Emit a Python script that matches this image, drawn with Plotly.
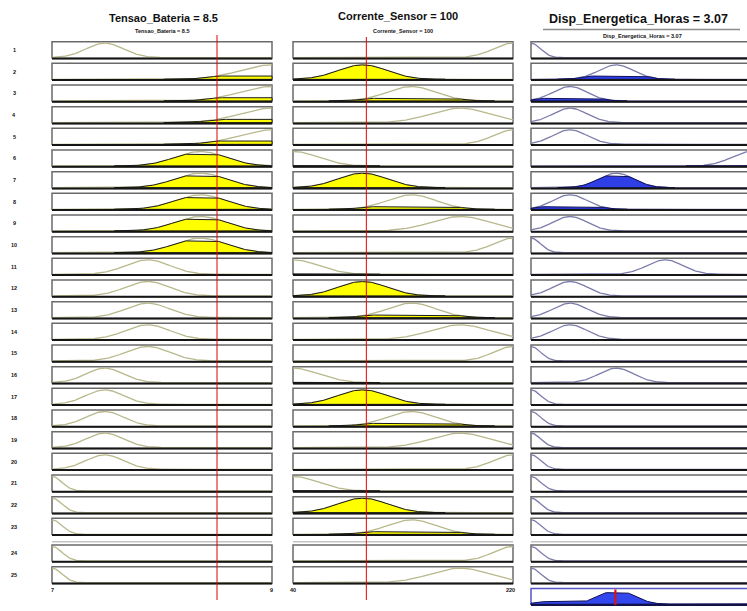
import numpy as np
import plotly.graph_objects as go

# ---------------- data ----------------
tensao_range = [7, 9]
corrente_range = [40, 220]
saida_range = [0, 8]

tensao_input = 8.5
corrente_input = 100
saida_output = 3.07

# membership function parameters (gaussian: center, sigma)
tensao_mf_centers = [7.0, 7.48, 7.87, 8.35, 9.0]
tensao_mf_sigmas = [0.09, 0.17, 0.20, 0.23, 0.29]
corrente_mf_centers = [40, 97, 137, 177, 220]
corrente_mf_sigmas = [21, 20, 20, 24, 16]
saida_mf_centers = [0.0, 1.42, 3.1, 4.87, 8.0]
saida_mf_sigmas = [0.35, 0.62, 0.63, 0.65, 0.7]

# rules (index of membership function per rule)
rule_tensao = [1, 4, 4, 4, 4, 3, 3, 3, 3, 3, 2, 2, 2, 2, 2, 1, 1, 1, 1, 1, 0, 0, 0, 0, 0]
rule_corrente = [4, 1, 2, 3, 4, 0, 1, 2, 3, 4, 0, 1, 2, 3, 4, 0, 1, 2, 3, 4, 0, 1, 2, 4, 3]
rule_saida = [0, 2, 1, 1, 1, 4, 2, 1, 1, 0, 3, 1, 1, 1, 0, 2, 0, 0, 0, 0, 0, 0, 0, 0, 0]

titles = ["Tensao_Bateria = 8.5", "Corrente_Sensor = 100", "Disp_Energetica_Horas = 3.07"]

# ---------------- layout helpers ----------------
W, H = 747, 611
col_px = [(52, 272), (293, 513), (531, 751)]
ranges = [tensao_range, corrente_range, saida_range]
PH = 16.7
n_rules = len(rule_tensao)


def row_top(i):
    return 41.7 + i * 21.667 + (5.0 if i >= 23 else 0.0)


AGG_TOP, AGG_BOT = 588.5, 605.0


def gauss(x, c, s):
    return np.exp(-((x - c) ** 2) / (2.0 * s ** 2))


def vy(v, bot, h=PH):
    return bot - (v + 0.05) / 1.15 * h


fig = go.Figure()

axis_names = ["x", "x2", "x3"]
layout_axes = {}
for k in range(3):
    p0, p1 = col_px[k]
    lo, hi = ranges[k]
    sc = (p1 - p0) / (hi - lo)
    d0 = p0 - 5
    d1 = min(p1 + 5, W)
    r0 = lo - (p0 - d0) / sc
    r1 = hi + (d1 - p1) / sc
    key = "xaxis" if k == 0 else "xaxis%d" % (k + 1)
    layout_axes[key] = dict(domain=[d0 / W, d1 / W], range=[r0, r1], visible=False,
                            anchor="y", fixedrange=True)

mf_params = [
    (tensao_mf_centers, tensao_mf_sigmas, rule_tensao),
    (corrente_mf_centers, corrente_mf_sigmas, rule_corrente),
    (saida_mf_centers, saida_mf_sigmas, rule_saida),
]
inputs = [tensao_input, corrente_input]

curve_col = ["#b8b88c", "#b8b88c", "#7c7cac"]
fill_col = ["#ffff00", "#ffff00", "#2f3fe6"]
edge_col = ["#1a1a1a", "#1a1a1a", "#10105a"]

# firing strengths
mu_t = [gauss(tensao_input, tensao_mf_centers[j], tensao_mf_sigmas[j]) for j in rule_tensao]
mu_c = [gauss(corrente_input, corrente_mf_centers[j], corrente_mf_sigmas[j]) for j in rule_corrente]
firing = [min(a, b) for a, b in zip(mu_t, mu_c)]

# panel boxes
for k in range(3):
    lo, hi = ranges[k]
    bx, by = [], []
    for i in range(n_rules):
        t = row_top(i)
        b = t + PH
        bx += [lo, lo, hi, hi, lo, None]
        by += [b, t, t, b, b, None]
    fig.add_trace(go.Scatter(x=bx, y=by, xaxis=axis_names[k], yaxis="y", mode="lines",
                             line=dict(color="#6a6a6a", width=1.5), hoverinfo="skip"))
    # separator between rules 23 and 24
    fig.add_trace(go.Scatter(x=[lo, hi], y=[541.7, 541.7], xaxis=axis_names[k], yaxis="y",
                             mode="lines", line=dict(color="#c4c4c4", width=1.5), hoverinfo="skip"))

# curves and fills
for k in range(3):
    lo, hi = ranges[k]
    centers, sigmas, rule_idx = mf_params[k]
    xs = np.linspace(lo, hi, 241)
    cx, cy = [], []
    for i in range(n_rules):
        b = row_top(i) + PH
        mf = gauss(xs, centers[rule_idx[i]], sigmas[rule_idx[i]])
        cx += list(xs) + [None]
        cy += list(vy(mf, b)) + [None]
    fig.add_trace(go.Scatter(x=cx, y=cy, xaxis=axis_names[k], yaxis="y", mode="lines",
                             line=dict(color=curve_col[k], width=1.3), hoverinfo="skip"))
    for i in range(n_rules):
        b = row_top(i) + PH
        mf = gauss(xs, centers[rule_idx[i]], sigmas[rule_idx[i]])
        if k < 2:
            level = gauss(inputs[k], centers[rule_idx[i]], sigmas[rule_idx[i]])
        else:
            level = firing[i]
        clip = np.minimum(mf, level)
        if clip.max() < 0.01:
            continue
        m = clip > 0.003
        px = xs[m]
        py = vy(clip[m], b)
        polx = list(px) + [px[-1], px[0], px[0]]
        poly = list(py) + [vy(0, b), vy(0, b), py[0]]
        fig.add_trace(go.Scatter(x=polx, y=poly, xaxis=axis_names[k], yaxis="y", mode="lines",
                                 fill="toself", fillcolor=fill_col[k],
                                 line=dict(color=edge_col[k], width=1), hoverinfo="skip"))
    # bottom edges
    bbx, bby = [], []
    for i in range(n_rules):
        b = row_top(i) + PH
        bbx += [lo, hi, None]
        bby += [b, b, None]
    fig.add_trace(go.Scatter(x=bbx, y=bby, xaxis=axis_names[k], yaxis="y", mode="lines",
                             line=dict(color="#151515", width=2), hoverinfo="skip"))

# aggregated output
lo, hi = saida_range
xs = np.linspace(lo, hi, 321)
agg = np.zeros_like(xs)
for i in range(n_rules):
    mf = gauss(xs, saida_mf_centers[rule_saida[i]], saida_mf_sigmas[rule_saida[i]])
    agg = np.maximum(agg, np.minimum(mf, firing[i]))
hA = AGG_BOT - AGG_TOP
fig.add_trace(go.Scatter(x=[lo, lo, hi, hi, lo], y=[AGG_BOT, AGG_TOP, AGG_TOP, AGG_BOT, AGG_BOT],
                         xaxis="x3", yaxis="y", mode="lines",
                         line=dict(color="#5656cc", width=1.5), hoverinfo="skip"))
ax = list(xs) + [hi, lo, lo]
ay = list(vy(agg, AGG_BOT, hA)) + [vy(0, AGG_BOT, hA), vy(0, AGG_BOT, hA), vy(agg[0], AGG_BOT, hA)]
fig.add_trace(go.Scatter(x=ax, y=ay, xaxis="x3", yaxis="y", mode="lines", fill="toself",
                         fillcolor="#3347ee", line=dict(color="#0c0c50", width=1), hoverinfo="skip"))
fig.add_trace(go.Scatter(x=[lo, hi], y=[AGG_BOT, AGG_BOT], xaxis="x3", yaxis="y", mode="lines",
                         line=dict(color="#12124a", width=2), hoverinfo="skip"))

# red input / output lines
fig.add_trace(go.Scatter(x=[tensao_input, tensao_input], y=[35, 600], xaxis="x", yaxis="y",
                         mode="lines", line=dict(color="#e60000", width=1), hoverinfo="skip"))
fig.add_trace(go.Scatter(x=[corrente_input, corrente_input], y=[37, 600], xaxis="x2", yaxis="y",
                         mode="lines", line=dict(color="#e60000", width=1), hoverinfo="skip"))
fig.add_trace(go.Scatter(x=[saida_output, saida_output], y=[AGG_TOP + 1, AGG_BOT], xaxis="x3",
                         yaxis="y", mode="lines", line=dict(color="#e01010", width=2.2),
                         hoverinfo="skip"))

# ---------------- annotations ----------------
FONT = "Liberation Sans, Arial, sans-serif"


def ann(text, px, py, size, color="#111"):
    return dict(text=text, x=px / W, y=1 - py / H, xref="paper", yref="paper",
                xanchor="center", yanchor="middle", showarrow=False,
                font=dict(family=FONT, size=size, color=color))


anns = []
anns.append(ann("<b>%s</b>" % titles[0], 163, 18, 11))
anns.append(ann("<b>%s</b>" % titles[1], 398, 16, 11))
anns.append(ann("<b>%s</b>" % titles[2], 638, 19, 12.5))
anns.append(ann("<b>%s</b>" % titles[0], 162, 31, 5.5))
anns.append(ann("<b>%s</b>" % titles[1], 403, 31, 5.5))
anns.append(ann("<b>%s</b>" % titles[2], 642, 36, 5.5))
for i in range(n_rules):
    anns.append(ann("<b>%d</b>" % (i + 1), 14, row_top(i) + PH / 2, 5.5))
anns.append(ann("<b>%g</b>" % tensao_range[0], 52, 590, 5.5))
anns.append(ann("<b>%g</b>" % tensao_range[1], 271, 590, 5.5))
anns.append(ann("<b>%g</b>" % corrente_range[0], 293, 590, 5.5))
anns.append(ann("<b>%g</b>" % corrente_range[1], 510, 590, 5.5))

shapes = [dict(type="line", xref="paper", yref="paper", x0=543 / W, x1=740 / W,
               y0=1 - 29.5 / H, y1=1 - 29.5 / H, line=dict(color="#8c8c8c", width=1.5))]

fig.update_layout(
    width=W, height=H, margin=dict(l=0, r=0, t=0, b=0),
    paper_bgcolor="white", plot_bgcolor="white", showlegend=False,
    yaxis=dict(domain=[0, 1], range=[H, 0], visible=False, anchor="x", fixedrange=True),
    annotations=anns, shapes=shapes,
    **layout_axes,
)

fig.write_html("out.html", config={"displayModeBar": False})
